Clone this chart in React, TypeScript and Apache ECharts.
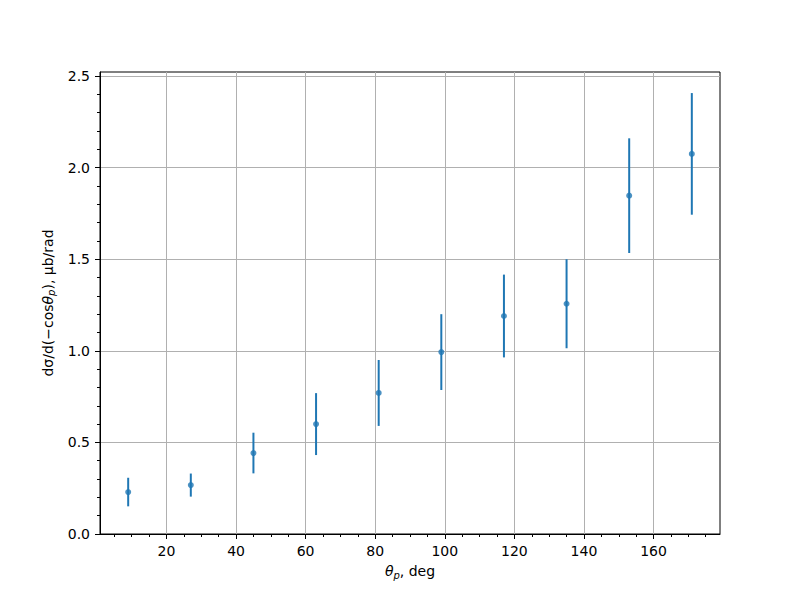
import React, { useEffect, useRef } from "react";
import * as echarts from "echarts";

const thetaDeg = [9, 27, 45, 63, 81, 99, 117, 135, 153, 171];
const crossSection = [0.229, 0.267, 0.442, 0.6, 0.77, 0.993, 1.19, 1.257, 1.847, 2.075];
const crossSectionErr = [0.078, 0.063, 0.111, 0.169, 0.18, 0.207, 0.226, 0.243, 0.313, 0.332];

const xMajorTicks = [20, 40, 60, 80, 100, 120, 140, 160];
const xMinorTicks = [5, 10, 15, 25, 30, 35, 45, 50, 55, 65, 70, 75, 85, 90, 95, 105, 110, 115, 125, 130, 135, 145, 150, 155, 165, 170, 175];
const yMajorTicks = [0, 0.5, 1.0, 1.5, 2.0, 2.5];
const yMinorTicks = [0.1, 0.2, 0.3, 0.4, 0.6, 0.7, 0.8, 0.9, 1.1, 1.2, 1.3, 1.4, 1.6, 1.7, 1.8, 1.9, 2.1, 2.2, 2.3, 2.4];

const X_MIN = 0.9;
const X_MAX = 179.1;
const Y_MIN = 0;
const Y_MAX = 2.522;

const FONT = "DejaVu Sans";
const BLUE = "#1f77b4";
const GRID_COLOR = "#b0b0b0";

export default function App() {
  const ref = useRef<HTMLDivElement>(null);

  useEffect(() => {
    if (!ref.current) return;
    const chart = echarts.init(ref.current, undefined, { renderer: "svg" });

    const points = thetaDeg.map((x, i) => [x, crossSection[i], crossSectionErr[i]]);

    const gridLines = [
      ...xMajorTicks.map((v) => ({ xAxis: v })),
      ...yMajorTicks.filter((v) => v > 0).map((v) => ({ yAxis: v })),
    ];

    const richStyles = {
      i: { fontFamily: FONT, fontSize: 14, fontStyle: "italic", color: "#000", lineHeight: 18 },
      s: { fontFamily: FONT, fontSize: 10, fontStyle: "italic", color: "#000", lineHeight: 8, verticalAlign: "bottom" },
      n: { fontFamily: FONT, fontSize: 14, color: "#000", lineHeight: 18 },
    };

    const option: any = {
      animation: false,
      backgroundColor: "#ffffff",
      textStyle: { fontFamily: FONT },
      grid: {
        left: 100,
        right: 80,
        top: 72,
        bottom: 66,
        show: true,
        borderColor: "#000",
        borderWidth: 1,
        backgroundColor: "transparent",
      },
      xAxis: [
        {
          type: "value",
          min: X_MIN,
          max: X_MAX,
          position: "bottom",
          axisLine: { show: true, onZero: false, lineStyle: { color: "#000", width: 1 } },
          axisTick: {
            show: true,
            customValues: xMajorTicks,
            length: 5,
            lineStyle: { color: "#000", width: 1 },
          },
          axisLabel: {
            show: true,
            customValues: xMajorTicks,
            margin: 10,
            color: "#000",
            fontSize: 14,
            fontFamily: FONT,
          },
          splitLine: { show: false },
          name: "{i|θ}{s|p}{n|, deg}",
          nameLocation: "middle",
          nameGap: 28,
          nameTextStyle: {
            fontFamily: FONT,
            color: "#000",
            fontSize: 14,
            rich: richStyles,
          },
        },
        {
          type: "value",
          min: X_MIN,
          max: X_MAX,
          position: "bottom",
          offset: 0,
          axisLine: { show: false, onZero: false },
          axisTick: {
            show: true,
            customValues: xMinorTicks,
            length: 3,
            lineStyle: { color: "#000", width: 1 },
          },
          axisLabel: { show: false },
          splitLine: { show: false },
        },
      ],
      yAxis: [
        {
          type: "value",
          min: Y_MIN,
          max: Y_MAX,
          position: "left",
          axisLine: { show: true, onZero: false, lineStyle: { color: "#000", width: 1 } },
          axisTick: {
            show: true,
            customValues: yMajorTicks,
            length: 5,
            lineStyle: { color: "#000", width: 1 },
          },
          axisLabel: {
            show: true,
            customValues: yMajorTicks,
            margin: 10,
            color: "#000",
            fontSize: 14,
            fontFamily: FONT,
            formatter: (v: number) => v.toFixed(1),
          },
          splitLine: { show: false },
          name: "{n|dσ/d(−cos}{i|θ}{s|p}{n|), μb/rad}",
          nameLocation: "middle",
          nameGap: 41,
          nameRotate: 90,
          nameTextStyle: {
            fontFamily: FONT,
            color: "#000",
            fontSize: 14,
            rich: richStyles,
          },
        },
        {
          type: "value",
          min: Y_MIN,
          max: Y_MAX,
          position: "left",
          offset: 0,
          axisLine: { show: false, onZero: false },
          axisTick: {
            show: true,
            customValues: yMinorTicks,
            length: 3,
            lineStyle: { color: "#000", width: 1 },
          },
          axisLabel: { show: false },
          splitLine: { show: false },
        },
      ],
      series: [
        {
          type: "line",
          data: [],
          xAxisIndex: 0,
          yAxisIndex: 0,
          silent: true,
          markLine: {
            silent: true,
            symbol: "none",
            label: { show: false },
            lineStyle: { color: GRID_COLOR, width: 1, type: "solid" },
            data: gridLines,
            z: 0,
          },
          z: 0,
        },
        {
          type: "custom",
          xAxisIndex: 0,
          yAxisIndex: 0,
          data: points,
          encode: { x: 0, y: 1 },
          z: 5,
          renderItem: (params: any, api: any) => {
            const x = api.value(0);
            const y = api.value(1);
            const e = api.value(2);
            const top = api.coord([x, y + e]);
            const bot = api.coord([x, y - e]);
            return {
              type: "line",
              shape: { x1: top[0], y1: top[1], x2: bot[0], y2: bot[1] },
              style: { stroke: BLUE, lineWidth: 2 },
            };
          },
        },
        {
          type: "scatter",
          xAxisIndex: 0,
          yAxisIndex: 0,
          data: points.map((p) => [p[0], p[1]]),
          symbol: "circle",
          symbolSize: 6,
          itemStyle: { color: BLUE },
          z: 6,
        },
      ],
    };

    chart.setOption(option);
    return () => chart.dispose();
  }, []);

  return <div ref={ref} style={{ width: 800, height: 600, position: "absolute", left: 0, top: 0 }} />;
}
